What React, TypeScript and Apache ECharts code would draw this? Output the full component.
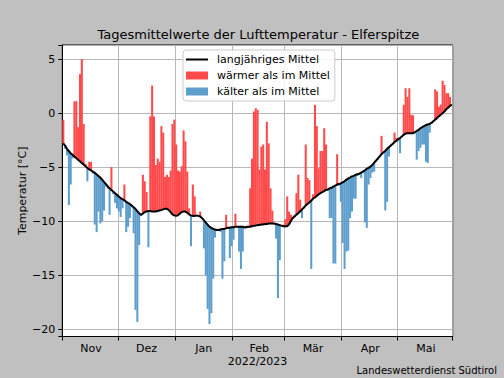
import React, { useEffect, useRef } from "react";
import * as echarts from "echarts";

// Daily values from 1 Nov 2022
const startDate = "2022-11-01";

const meanValues: number[] = [
  -2.8, -3.0, -3.3, -3.5, -3.7, -3.85, -4.0, -4.15, -4.3, -4.45,
  -4.6, -4.75, -4.9, -5.05, -5.2, -5.3, -5.4, -5.5, -5.65, -5.8,
  -5.95, -6.15, -6.35, -6.55, -6.75, -6.95, -7.1, -7.25, -7.4, -7.55,
  -7.7, -7.85, -7.95, -8.05, -8.2, -8.3, -8.4, -8.55, -8.7, -8.85,
  -9.05, -9.25, -9.4, -9.3, -9.15, -9.1, -9.05, -9.05, -9.1, -9.1,
  -9.1, -9.05, -9.0, -8.95, -8.9, -8.85, -8.85, -8.95, -9.15, -9.35,
  -9.45, -9.5, -9.45, -9.3, -9.15, -9.1, -9.1, -9.2, -9.35, -9.45,
  -9.5, -9.5, -9.45, -9.5, -9.55, -9.7, -9.9, -10.1, -10.3, -10.5,
  -10.6, -10.7, -10.75, -10.8, -10.8, -10.75, -10.7, -10.7, -10.65, -10.6,
  -10.6, -10.55, -10.55, -10.5, -10.5, -10.5, -10.5, -10.5, -10.55, -10.55,
  -10.5, -10.5, -10.45, -10.4, -10.4, -10.35, -10.35, -10.3, -10.3, -10.25,
  -10.25, -10.2, -10.2, -10.2, -10.2, -10.25, -10.3, -10.35, -10.4, -10.45,
  -10.45, -10.45, -10.3, -10.0, -9.7, -9.55, -9.4, -9.25, -9.1, -8.9,
  -8.75, -8.55, -8.4, -8.25, -8.1, -7.9, -7.8, -7.65, -7.5, -7.4,
  -7.3, -7.2, -7.1, -7.05, -6.95, -6.9, -6.8, -6.7, -6.6, -6.55,
  -6.5, -6.4, -6.3, -6.15, -6.05, -5.95, -5.85, -5.8, -5.7, -5.65,
  -5.6, -5.5, -5.4, -5.3, -5.15, -5.05, -4.95, -4.8, -4.6, -4.4,
  -4.2, -4.0, -3.8, -3.65, -3.5, -3.3, -3.15, -3.0, -2.85, -2.7,
  -2.55, -2.4, -2.3, -2.15, -2.0, -1.9, -1.85, -1.85, -1.85, -1.85,
  -1.75, -1.65, -1.55, -1.4, -1.3, -1.2, -1.1, -1.05, -1.0, -0.9,
  -0.75, -0.6, -0.46, -0.3, -0.15, 0.0, 0.15, 0.35, 0.5, 0.65,
  0.8,
];

const dailyValues: number[] = [
  -0.6, -3.3, -3.9, -8.5, -6.6, -4.2, 1.1, 1.1, -1.3, 3.6,
  5.0, -1.0, -4.7, -6.3, -4.5, -4.5, -5.6, -10.3, -11.0, -9.1,
  -10.2, -10.0, -9.0, -6.8, -7.0, -9.4, -5.0, -7.5, -8.3, -8.8,
  -9.1, -9.6, -8.8, -6.6, -11.0, -10.5, -9.7, -8.7, -11.1, -18.2,
  -19.3, -12.2, -9.5, -5.7, -6.3, -7.3, -12.4, -0.3, 2.55, -0.3,
  -4.8, -4.2, -4.5, -1.2, -1.8, -5.9, -5.7, -5.9, -5.3, -1.0,
  -0.6, -2.9, -5.3, -5.4, -4.9, -1.6, -2.6, -5.4, -8.8, -12.3,
  -6.6, -7.7, -9.6, -9.4, -9.1, -9.8, -12.5, -15.0, -18.1, -19.5,
  -18.5, -15.3, -11.5, -10.9, -10.7, -11.0, -15.3, -13.7, -9.4, -10.7,
  -13.4, -12.3, -11.7, -9.3, -10.6, -12.8, -14.4, -12.8, -10.7, -10.4,
  -10.6, -6.95, -4.2, 0.15, 0.46, 0.3, -5.2, -3.1, -2.9, -5.2,
  -0.8, -2.8, -6.95, -9.0, -10.3, -11.6, -17.1, -13.6, -10.5, -10.3,
  -9.8, -7.7, -9.1, -9.4, -9.8, -9.4, -7.4, -5.7, -8.0, -9.7,
  -8.6, -2.9, -6.0, -6.2, -14.4, -7.5, 0.77, -1.2, -5.1, -3.5,
  -3.5, -1.4, -2.9, -7.2, -9.7, -9.7, -13.9, -13.9, -3.8, -6.7,
  -8.2, -12.0, -14.4, -12.8, -12.7, -9.7, -9.1, -7.9, -7.9, -5.8,
  -5.7, -6.0, -5.5, -10.1, -10.6, -6.6, -6.0, -5.5, -5.4, -4.5,
  -4.3, -4.1, -2.1, -3.6, -9.0, -8.2, -4.0, -3.1, -2.9, -1.8,
  -2.3, -2.6, -3.7, -2.2, 0.77, 2.3, 1.5, 2.3, -0.15, -0.2,
  -1.9, -4.3, -3.5, -3.2, -2.9, -2.9, -4.5, -4.6, -1.8, -1.0,
  -0.8, 2.2, 2.0, 0.6, 0.8, 3.0, 2.6, 1.85, 1.85, 1.5,
  0.8,
];

// month boundaries (day index of the 1st) and label positions (mid-month)
const monthStartIdx = [0, 30, 61, 92, 120, 151, 181];
const monthLabelIdx = [15, 45, 76, 106, 135, 166, 196];
const monthLabels = ["Nov", "Dez", "Jan", "Feb", "Mär", "Apr", "Mai"];

const TITLE = "Tagesmittelwerte der Lufttemperatur - Elferspitze";
const X_NAME = "2022/2023";
const Y_NAME = "Temperatur [°C]";
const FOOTER = "Landeswetterdienst Südtirol";
const NAME_MEAN = "langjähriges Mittel";
const NAME_WARM = "wärmer als im Mittel";
const NAME_COLD = "kälter als im Mittel";

const FONT = "DejaVu Sans";
const RED = "#ff4b4b";
const BLUE = "#5e9ecd";

function buildCategories(): string[] {
  const base = new Date(startDate + "T00:00:00Z").getTime();
  return dailyValues.map((_, i) => new Date(base + i * 86400000).toISOString().slice(0, 10));
}

export default function App() {
  const ref = useRef<HTMLDivElement>(null);
  useEffect(() => {
    if (!ref.current) return;
    const chart = echarts.init(ref.current, undefined, { renderer: "svg" });
    const categories = buildCategories();
    const startSet = new Set(monthStartIdx);
    const labelMap = new Map<number, string>();
    monthLabelIdx.forEach((idx, k) => labelMap.set(idx, monthLabels[k]));

    const warm: number[][] = [];
    const cold: number[][] = [];
    dailyValues.forEach((v, i) => {
      const m = meanValues[i];
      if (v > m) warm.push([i, m, v]);
      else if (v < m) cold.push([i, m, v]);
    });

    const makeRender = (color: string) => (params: any, api: any) => {
      const i = api.value(0);
      const lo = api.value(1);
      const hi = api.value(2);
      const p1 = api.coord([i, hi]);
      const p2 = api.coord([i, lo]);
      const w = api.size([1, 0])[0];
      const y = Math.min(p1[1], p2[1]);
      const h = Math.abs(p2[1] - p1[1]);
      return {
        type: "rect",
        shape: { x: p1[0] - w / 2, y, width: w + 0.2, height: h },
        style: { fill: color },
      };
    };

    const fmtY = (v: number) => {
      const r = Math.round(v);
      if (Math.abs(v - r) > 1e-6 || r % 5 !== 0) return "";
      return r < 0 ? "\u2212" + String(-r) : String(r);
    };

    chart.setOption({
      animation: false,
      backgroundColor: "#c0c0c0",
      textStyle: { fontFamily: FONT },
      grid: {
        left: 62.3,
        right: 51.3,
        top: 45,
        bottom: 41.5,
        show: true,
        backgroundColor: "#ffffff",
        borderColor: "#000000",
        borderWidth: 1,
      },
      legend: {
        orient: "vertical",
        left: 183,
        top: 50,
        backgroundColor: "rgba(255,255,255,0.85)",
        borderColor: "#cccccc",
        borderWidth: 1,
        borderRadius: 3,
        padding: [3, 5, 3, 3],
        itemGap: 3,
        itemWidth: 22,
        itemHeight: 8,
        textStyle: { fontSize: 11, fontFamily: FONT, color: "#000", lineHeight: 13, padding: [0, 0, 0, 4] },
        data: [
          { name: NAME_MEAN, icon: "path://M0,0H22V2H0Z" },
          { name: NAME_WARM, icon: "rect" },
          { name: NAME_COLD, icon: "rect" },
        ],
      },
      xAxis: {
        type: "category",
        data: categories,
        boundaryGap: true,
        axisLine: { show: true, onZero: false, lineStyle: { color: "#000", width: 1 } },
        axisTick: {
          show: true,
          interval: (i: number) => startSet.has(i),
          length: 4,
          lineStyle: { color: "#000" },
        },
        axisLabel: {
          interval: (i: number) => labelMap.has(i),
          formatter: (_v: string, i: number) => labelMap.get(i) ?? "",
          fontSize: 11,
          fontFamily: FONT,
          color: "#000",
          margin: 6,
        },
        splitLine: {
          show: true,
          interval: (i: number) => startSet.has(i),
          lineStyle: { color: "#b0b0b0", width: 0.9 },
        },
        name: X_NAME,
        nameLocation: "middle",
        nameGap: 19,
        nameMoveOverlap: false,
        nameTextStyle: { fontSize: 11, fontFamily: FONT, color: "#000" },
      },
      yAxis: {
        type: "value",
        min: -20.65,
        max: 6.3,
        minInterval: 5,
        maxInterval: 5,
        axisLine: { show: true, onZero: false, lineStyle: { color: "#000", width: 1 } },
        axisTick: { show: true, length: 4, lineStyle: { color: "#000" } },
        axisLabel: { formatter: fmtY, fontSize: 11, fontFamily: FONT, color: "#000", margin: 7 },
        splitLine: { show: true, lineStyle: { color: "#b0b0b0", width: 0.9 } },
        name: Y_NAME,
        nameLocation: "middle",
        nameGap: 34,
        nameMoveOverlap: false,
        nameRotate: 90,
        nameTextStyle: { fontSize: 11, fontFamily: FONT, color: "#000" },
      },
      graphic: [
        {
          type: "text",
          x: 258.4,
          y: 34,
          style: {
            text: TITLE,
            font: `13px "${FONT}"`,
            fill: "#000",
            align: "center",
            verticalAlign: "middle",
          },
        },
        {
          type: "text",
          right: 7,
          bottom: 3,
          style: { text: FOOTER, font: `10px "${FONT}"`, fill: "#000" },
        },
      ],
      series: [
        {
          name: NAME_WARM,
          type: "custom",
          data: warm,
          encode: { x: 0, y: [1, 2] },
          itemStyle: { color: RED },
          renderItem: makeRender(RED),
          z: 2,
        },
        {
          name: NAME_COLD,
          type: "custom",
          data: cold,
          encode: { x: 0, y: [1, 2] },
          itemStyle: { color: BLUE },
          renderItem: makeRender(BLUE),
          z: 2,
        },
        {
          name: NAME_MEAN,
          type: "line",
          data: meanValues,
          symbol: "none",
          lineStyle: { color: "#000", width: 2 },
          itemStyle: { color: "#000" },
          z: 5,
        },
      ],
    });
    return () => chart.dispose();
  }, []);
  return (
    <div
      ref={ref}
      style={{ position: "fixed", left: 0, top: 0, width: 504, height: 378, background: "#c0c0c0" }}
    />
  );
}
